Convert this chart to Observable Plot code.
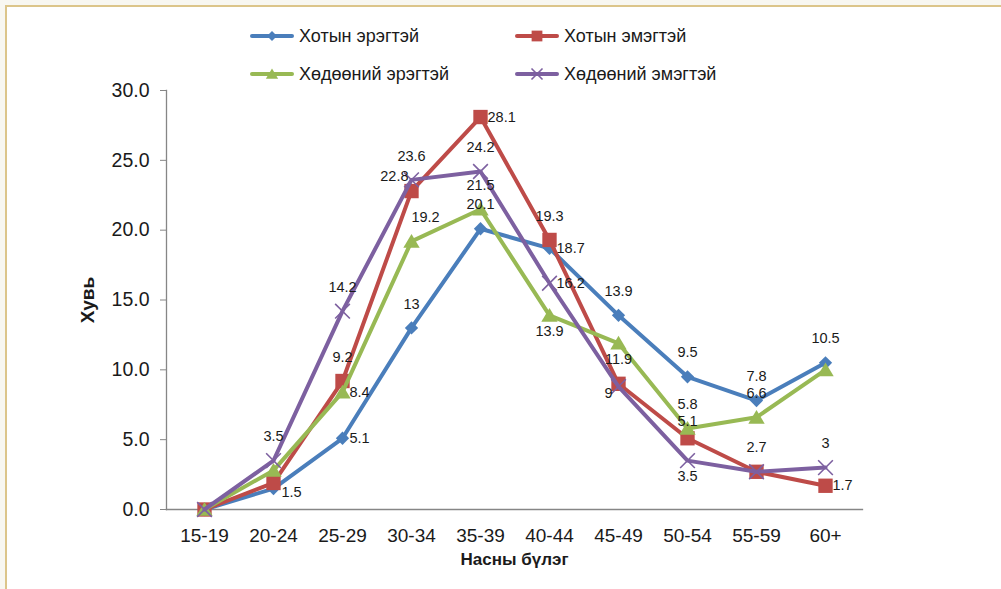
<!DOCTYPE html>
<html>
<head>
<meta charset="utf-8">
<script src="https://cdn.jsdelivr.net/npm/d3@7"></script>
<script src="https://cdn.jsdelivr.net/npm/@observablehq/plot@0.6"></script>
<style>
  body { margin: 0; background: #fff; font-family: "Liberation Sans", Arial, sans-serif; }
  #wrap { position: relative; width: 1001px; height: 589px; overflow: hidden; background: #f8f7f1; }
  #panel { position: absolute; left: 5px; top: 5px; width: 1010px; height: 600px; background: #fff;
           border-top: 2px solid #dcc58a; border-left: 2px solid #dcc58a; }
  #chart { position: absolute; left: 0; top: 80px; }
  .leg { position: absolute; display: flex; align-items: center; font-size: 18px; color: #1a1a1a; white-space: nowrap; }
  .leg svg { margin-right: 5px; }
</style>
</head>
<body>
<div id="wrap">
  <div id="panel"></div>
  <div id="legend"></div>
  <div id="chart"></div>
</div>
<script>
// ---- data ----
const categories = ["15-19","20-24","25-29","30-34","35-39","40-44","45-49","50-54","55-59","60+"];
const seriesNames = ["Хотын эрэгтэй","Хотын эмэгтэй","Хөдөөний эрэгтэй","Хөдөөний эмэгтэй"];
const urbanMale   = [0, 1.5, 5.1, 13, 20.1, 18.7, 13.9, 9.5, 7.8, 10.5];
const urbanFemale = [0, 1.9, 9.2, 22.8, 28.1, 19.3, 9, 5.1, 2.7, 1.7];
const ruralMale   = [0, 2.8, 8.4, 19.2, 21.5, 13.9, 11.9, 5.8, 6.6, 10.0];
const ruralFemale = [0, 3.5, 14.2, 23.6, 24.2, 16.2, 8.8, 3.5, 2.7, 3];
const yTicks = [0, 5, 10, 15, 20, 25, 30];
// label placement codes per point (null = no label shown)
const urbanMaleLbl   = [null, "rb", "r", "t", "t", "r", "t", "t", "t", "t"];
const urbanFemaleLbl = [null, null, "t", "tl", "r", "t", "bl", "tn", "t", "r"];
const ruralMaleLbl   = [null, null, "r", "tr", "t", "b", "b", "t", "t", null];
const ruralFemaleLbl = [null, "t", "t", "t", "t", "r", null, "b", null, "t"];

// ---- styles ----
const colors = ["#4a7ebb", "#be4b48", "#98b954", "#7d60a0"];
const sym = {
  diamond: {draw(c, size){ const s = Math.sqrt(size)/2; c.moveTo(0,-s); c.lineTo(s,0); c.lineTo(0,s); c.lineTo(-s,0); c.closePath(); }},
  square:  {draw(c, size){ const s = Math.sqrt(size)/2; c.moveTo(-s,-s); c.lineTo(s,-s); c.lineTo(s,s); c.lineTo(-s,s); c.closePath(); }},
  triangle:{draw(c, size){ const s = Math.sqrt(size)/2; c.moveTo(0,-s); c.lineTo(s*1.1,s*0.85); c.lineTo(-s*1.1,s*0.85); c.closePath(); }},
  times:   {draw(c, size){ const s = Math.sqrt(size)/2; c.moveTo(-s,-s); c.lineTo(s,s); c.moveTo(s,-s); c.lineTo(-s,s); }}
};
const symbols = [sym.diamond, sym.square, sym.triangle, sym.times];
const symR = [7.5, 8.1, 8.4, 8.3];

const allValues = [urbanMale, urbanFemale, ruralMale, ruralFemale];
const allLbls = [urbanMaleLbl, urbanFemaleLbl, ruralMaleLbl, ruralFemaleLbl];
const rows = allValues.map((vals, si) => categories.map((c, i) => ({
  cat: c, value: vals[i], series: seriesNames[si], si, lbl: allLbls[si][i]
})));
const flat = rows.flat();

const offsets = {
  t:  {dx: 0,  dy: -24, textAnchor: "middle"},
  tn: {dx: 0,  dy: -17, textAnchor: "middle"},
  r:  {dx: 7,  dy: 0,   textAnchor: "start"},
  rb: {dx: 8,  dy: 4,   textAnchor: "start"},
  b:  {dx: 0,  dy: 16,  textAnchor: "middle"},
  tl: {dx: -3, dy: -15, textAnchor: "end"},
  tr: {dx: 14, dy: -24, textAnchor: "middle"},
  bl: {dx: -6, dy: 10,  textAnchor: "end"}
};

const marks = [
  Plot.axisY({ticks: yTicks, tickFormat: d3.format(".1f"), tickSize: 6, tickPadding: 11,
              stroke: "#868686", fill: "#1a1a1a", fontSize: 19.5, label: null}),
  Plot.axisX({tickSize: 0, tickPadding: 19, fill: "#1a1a1a", fontSize: 19, label: null}),
  Plot.frame({anchor: "left", stroke: "#868686", strokeWidth: 1.3}),
  Plot.frame({anchor: "bottom", stroke: "#868686", strokeWidth: 1.3}),
  Plot.text(["Хувь"], {frameAnchor: "left", text: d => d, rotate: -90, dx: -79, textAnchor: "middle", lineAnchor: "middle",
                       fontWeight: "bold", fontSize: 19, fill: "#1a1a1a"}),
  Plot.text(["Насны бүлэг"], {frameAnchor: "bottom", text: d => d, dy: 50, textAnchor: "middle", lineAnchor: "middle",
                              fontWeight: "bold", fontSize: 17, fill: "#1a1a1a"})
];
rows.forEach((data, si) => {
  marks.push(Plot.line(data, {x: "cat", y: "value", stroke: colors[si], strokeWidth: 4, strokeLinejoin: "round", strokeLinecap: "round"}));
  if (si === 3) {
    marks.push(Plot.dot(data, {x: "cat", y: "value", symbol: symbols[si], r: symR[si], fill: "none", stroke: colors[si], strokeWidth: 1.6}));
  } else {
    marks.push(Plot.dot(data, {x: "cat", y: "value", symbol: symbols[si], r: symR[si], fill: colors[si], stroke: "none"}));
  }
});
Object.entries(offsets).forEach(([code, o]) => {
  marks.push(Plot.text(flat.filter(d => d.lbl === code), {
    x: "cat", y: "value", text: d => String(d.value), dx: o.dx, dy: o.dy, textAnchor: o.textAnchor,
    fontSize: 14.5, fill: "#1a1a1a"
  }));
});

const chart = Plot.plot({
  width: 1001, height: 509,
  marginLeft: 166, marginRight: 139, marginTop: 10, marginBottom: 80,
  style: {fontFamily: "'Liberation Sans', Arial, sans-serif", background: "transparent", overflow: "visible"},
  x: {type: "point", domain: categories, padding: 0.5},
  y: {domain: [0, 30]},
  marks
});
document.getElementById("chart").appendChild(chart);

// ---- legend ----
const legPos = [[250, 36], [515, 36], [250, 74], [515, 74]];
const legend = document.getElementById("legend");
seriesNames.forEach((name, si) => {
  const div = document.createElement("div");
  div.className = "leg";
  div.style.left = legPos[si][0] + "px";
  div.style.top = (legPos[si][1] - 11) + "px";
  div.style.height = "22px";
  const ns = "http://www.w3.org/2000/svg";
  const svg = document.createElementNS(ns, "svg");
  svg.setAttribute("width", 44); svg.setAttribute("height", 18);
  const line = document.createElementNS(ns, "line");
  line.setAttribute("x1", 2); line.setAttribute("x2", 42); line.setAttribute("y1", 9); line.setAttribute("y2", 9);
  line.setAttribute("stroke", colors[si]); line.setAttribute("stroke-width", 4); line.setAttribute("stroke-linecap", "round");
  svg.appendChild(line);
  const p = document.createElementNS(ns, "path");
  const rr = symR[si] * 0.75;
  p.setAttribute("d", d3.symbol(symbols[si], Math.PI * rr * rr)());
  p.setAttribute("transform", "translate(22,9)");
  if (si === 3) { p.setAttribute("fill", "none"); p.setAttribute("stroke", colors[si]); p.setAttribute("stroke-width", 1.6); }
  else p.setAttribute("fill", colors[si]);
  svg.appendChild(p);
  div.appendChild(svg);
  const span = document.createElement("span");
  span.textContent = name;
  div.appendChild(span);
  legend.appendChild(div);
});
</script>
</body>
</html>
